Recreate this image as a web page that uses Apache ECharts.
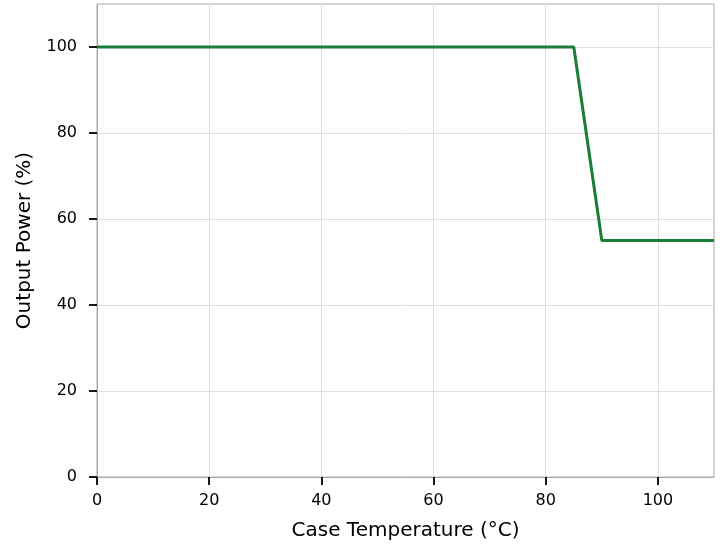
<!DOCTYPE html>
<html><head><meta charset="utf-8">
<script src="https://cdn.jsdelivr.net/npm/echarts@6/dist/echarts.min.js"></script>
<style>html,body{margin:0;padding:0;background:#fff}#c{width:720px;height:546px}</style>
</head><body><div id="c"></div>
<script>
const temps = [0, 85, 90, 110];
const power = [100, 100, 55, 55];
const xTicks = [0, 20, 40, 60, 80, 100];
const yTicks = [0, 20, 40, 60, 80, 100];
const xLabel = 'Case Temperature (°C)';
const yLabel = 'Output Power (%)';

const font = 'DejaVu Sans';
const chart = echarts.init(document.getElementById('c'), null, {renderer: 'canvas'});
const axisCommon = {
  type: 'value', min: 0, max: 110, interval: 20,
  nameLocation: 'middle',
  nameTextStyle: {fontFamily: font, fontSize: 20, color: '#000'},
  axisLine: {show: true, lineStyle: {color: '#aaaaaa', width: 1}},
  axisTick: {show: true, length: 8, lineStyle: {color: '#000', width: 1.8}},
  axisLabel: {fontFamily: font, fontSize: 16, color: '#000'},
  splitLine: {show: true, lineStyle: {color: '#dedede', width: 1}}
};
chart.setOption({
  animation: false,
  grid: {left: 97, right: 6, top: 4, bottom: 69, show: true, borderColor: '#aaaaaa', borderWidth: 1,
         backgroundColor: 'transparent', outerBoundsMode: 'none', containLabel: false},
  xAxis: Object.assign({}, axisCommon, {
    name: xLabel, nameGap: 44,
    axisTick: Object.assign({}, axisCommon.axisTick, {customValues: xTicks}),
    axisLabel: Object.assign({}, axisCommon.axisLabel, {customValues: xTicks, margin: 16})
  }),
  yAxis: Object.assign({}, axisCommon, {
    name: yLabel, nameGap: 62,
    axisTick: Object.assign({}, axisCommon.axisTick, {customValues: yTicks}),
    axisLabel: Object.assign({}, axisCommon.axisLabel, {customValues: yTicks, margin: 20})
  }),
  series: [{
    type: 'line',
    data: temps.map((t, i) => [t, power[i]]),
    showSymbol: false,
    lineStyle: {color: '#1b7d36', width: 3},
    itemStyle: {color: '#1b7d36'}
  }]
});
</script></body></html>
